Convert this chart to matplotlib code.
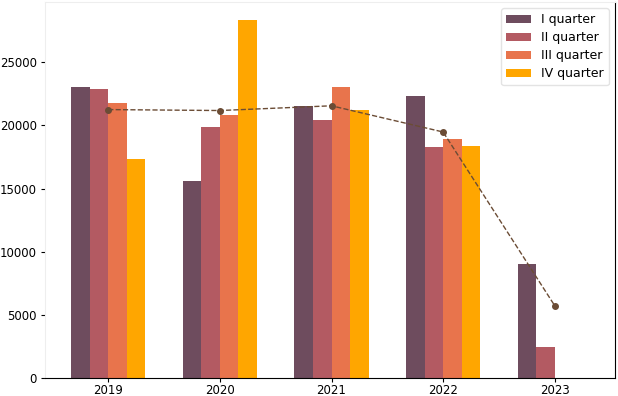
import matplotlib
matplotlib.use("Agg")
import matplotlib.pyplot as plt
import numpy as np

years = ["2019", "2020", "2021", "2022", "2023"]
q1 = [23000, 15600, 21500, 22350, 9000]
q2 = [22900, 19900, 20450, 18250, 2450]
q3 = [21800, 20850, 23000, 18950, 0]
q4 = [17300, 28350, 21250, 18350, 0]
avg = [21250, 21175, 21550, 19475, 5725]
labels = ["I quarter", "II quarter", "III quarter", "IV quarter"]
colors = ["#6e4c5e", "#b35a62", "#e8744c", "#ffa600"]

fig = plt.figure(figsize=(6.18, 3.96), dpi=100)
ax = fig.add_axes([45/618, 18/396, 570/618, 376/396])

x = np.arange(len(years))
w = 1/6
for i, (vals, lab, c) in enumerate(zip([q1, q2, q3, q4], labels, colors)):
    ax.bar(x + (i - 1.5) * w, vals, width=w, color=c, label=lab)

ax.plot(x, avg, linestyle="--", color="#6b4c35", marker="o", markersize=4, linewidth=1)

ax.set_xticks(x)
ax.set_xticklabels(years)
ax.set_xlim(-0.567, 4.54)
ax.set_ylim(0, 29767)
ax.set_yticks([0, 5000, 10000, 15000, 20000, 25000])
ax.tick_params(axis="x", labelsize=8.5, length=3, pad=1.5)
ax.tick_params(axis="y", labelsize=8.5, length=3, pad=3)

ax.spines["left"].set_color("#eeeeee")
ax.spines["top"].set_color("#eeeeee")
ax.spines["bottom"].set_color("black")
ax.spines["right"].set_color("black")

leg = ax.legend(loc="upper right", fontsize=9, frameon=True, labelspacing=0.4)
leg.get_frame().set_edgecolor("#dddddd")

fig.savefig("out.png", dpi=100)
